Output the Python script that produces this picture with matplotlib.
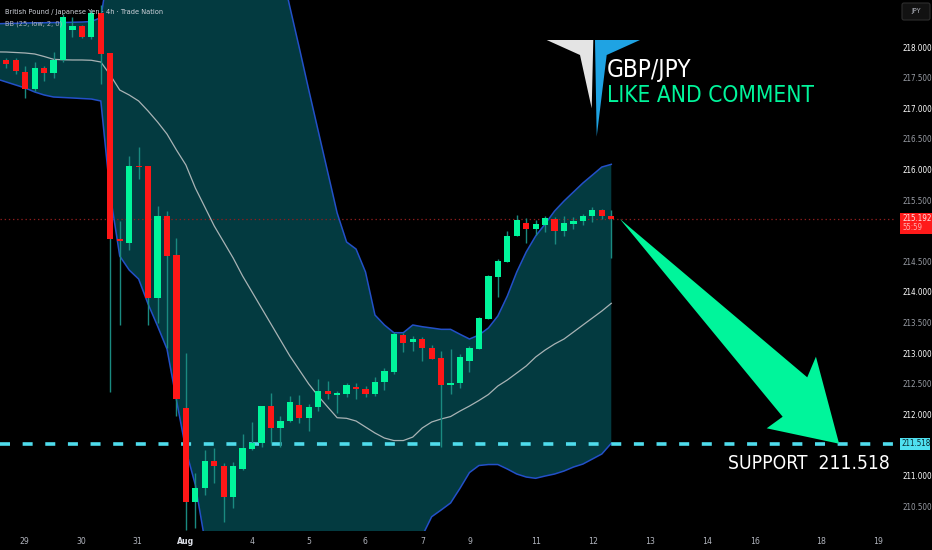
import numpy as np
import matplotlib.pyplot as plt
from matplotlib.patches import Polygon, Rectangle, FancyBboxPatch

plt.rcParams['font.family'] = ['DejaVu Sans']
plt.rcParams['font.stretch'] = 'condensed'
plt.rcParams['lines.scale_dashes'] = False

# GBP/JPY 4h candles
opens = [217.784, 217.784, 217.596, 217.315, 217.663, 217.580, 217.784, 218.283, 218.337, 218.160,
         218.559, 217.895, 214.863, 214.791, 216.060, 216.051, 213.907, 215.232, 214.601, 212.101,
         210.573, 210.789, 211.230, 211.154, 210.642, 211.110, 211.436, 211.525, 212.134, 211.770,
         211.889, 212.145, 211.933, 212.123, 212.379, 212.319, 212.325, 212.449, 212.412, 212.325,
         212.521, 212.690, 213.294, 213.175, 213.229, 213.082, 212.913, 212.472, 212.505, 212.864,
         213.070, 213.560, 214.247, 214.482, 214.917, 215.119, 215.026, 215.096, 215.190, 214.998,
         215.108, 215.162, 215.234, 215.332, 215.243]
closes = [217.719, 217.608, 217.315, 217.663, 217.580, 217.791, 218.492, 218.337, 218.160, 218.559,
          217.886, 214.863, 214.830, 216.060, 216.039, 213.907, 215.232, 214.585, 212.248, 210.573,
          210.802, 211.235, 211.154, 210.642, 211.154, 211.448, 211.534, 212.134, 211.770, 211.894,
          212.194, 211.933, 212.123, 212.384, 212.330, 212.342, 212.472, 212.417, 212.330, 212.531,
          212.706, 213.306, 213.158, 213.229, 213.077, 212.902, 212.477, 212.505, 212.930, 213.082,
          213.577, 214.258, 214.503, 214.912, 215.168, 215.026, 215.103, 215.201, 214.998, 215.119,
          215.157, 215.239, 215.332, 215.243, 215.192]
highs = [217.828, 217.820, 217.690, 217.747, 217.690, 217.912, 218.547, 218.492, 218.353, 218.605,
         218.686, 217.902, 215.157, 216.227, 216.366, 216.060, 215.402, 215.320, 214.879, 213.000,
         211.039, 211.415, 211.448, 211.203, 211.224, 211.676, 211.873, 212.134, 212.346, 211.975,
         212.297, 212.314, 212.162, 212.570, 212.542, 212.379, 212.505, 212.505, 212.466, 212.613,
         212.760, 213.348, 213.322, 213.278, 213.267, 213.131, 213.033, 213.070, 212.984, 213.114,
         213.593, 214.275, 214.536, 214.998, 215.255, 215.201, 215.168, 215.239, 215.227, 215.239,
         215.227, 215.271, 215.391, 215.348, 215.337]
lows = [217.663, 217.552, 217.167, 217.276, 217.444, 217.497, 217.747, 218.160, 218.149, 218.132,
        217.399, 212.363, 213.466, 214.691, 215.843, 213.466, 213.490, 213.082, 211.971, 210.108,
        210.141, 210.680, 210.871, 210.243, 210.462, 211.088, 211.415, 211.469, 211.525, 211.459,
        211.868, 211.851, 211.730, 212.047, 212.248, 212.015, 212.276, 212.243, 212.286, 212.297,
        212.395, 212.652, 213.021, 213.038, 212.874, 212.897, 211.469, 212.325, 212.433, 212.694,
        213.060, 213.560, 213.910, 214.482, 214.917, 214.802, 214.928, 214.982, 214.776, 214.912,
        215.031, 215.096, 215.145, 215.185, 214.547]

# Bollinger bands (25, low, 2), starting one bar before the first candle
bb_upper = [218.380, 218.384, 218.387, 218.392, 218.395, 218.397, 218.399, 218.400, 218.404, 218.408, 218.417,
            218.480, 219.450, 219.900, 220.100, 220.250, 220.400, 220.550, 220.700, 220.800, 220.850,
            220.850, 220.800, 220.750, 220.650, 220.550, 220.450, 220.300, 220.150, 219.900, 219.340,
            218.654, 217.984, 217.297, 216.627, 215.958, 215.288, 214.814, 214.699, 214.324, 213.621,
            213.458, 213.332, 213.332, 213.458, 213.430, 213.409, 213.387, 213.387, 213.306, 213.229,
            213.294, 213.409, 213.605, 213.931, 214.324, 214.651, 214.912, 215.108, 215.320, 215.484,
            215.631, 215.778, 215.908, 216.039, 216.083]
bb_lower = [217.477, 217.428, 217.379, 217.330, 217.265, 217.216, 217.183, 217.175, 217.167, 217.158, 217.150,
            217.118, 215.582, 214.585, 214.356, 214.209, 213.801, 213.441, 213.065, 212.232, 211.415,
            210.843, 209.940, 209.700, 209.500, 209.300, 209.200, 209.100, 209.000, 208.900, 208.850,
            208.800, 208.800, 208.850, 208.900, 209.000, 209.100, 209.200, 209.300, 209.400, 209.500,
            209.600, 209.700, 209.800, 209.950, 210.010, 210.325, 210.435, 210.550, 210.790, 211.047,
            211.162, 211.178, 211.178, 211.105, 211.023, 210.974, 210.953, 210.990, 211.023, 211.072,
            211.137, 211.186, 211.268, 211.350, 211.525]
bb_mid = [217.920, 217.918, 217.910, 217.902, 217.886, 217.845, 217.799, 217.791, 217.788, 217.788, 217.783,
          217.755, 217.542, 217.297, 217.216, 217.118, 216.954, 216.775, 216.578, 216.317, 216.072,
          215.696, 215.386, 215.075, 214.814, 214.552, 214.258, 213.997, 213.735, 213.474, 213.212,
          212.951, 212.722, 212.493, 212.297, 212.118, 211.943, 211.933, 211.889, 211.791, 211.693,
          211.611, 211.570, 211.570, 211.627, 211.775, 211.873, 211.922, 211.962, 212.052, 212.134,
          212.224, 212.322, 212.461, 212.559, 212.673, 212.788, 212.935, 213.049, 213.147, 213.229,
          213.343, 213.458, 213.572, 213.686, 213.812]

support = 211.518
last_price = 215.192
countdown = '55:59'

# date labels (bar index where each label sits)
tick_pos = [1.9, 7.9, 13.9, 19.0, 26.0, 32.0, 37.9, 44.1, 49.1, 56.0, 62.1, 68.1, 74.1, 79.2, 86.2, 92.2]
tick_labels = ['29', '30', '31', 'Aug', '4', '5', '6', '7', '9', '11', '12', '13', '14', '16', '18', '19']

GREEN = '#00f59b'
RED = '#ff1717'
WICK = '#1a8a80'
FILL = '#033a40'
BAND = '#2350c8'

W, H = 932, 550
fig = plt.figure(figsize=(W / 100, H / 100), dpi=100, facecolor='black')
ax = fig.add_axes([0, 19 / H, 896 / W, 531 / H])
ax.set_facecolor('black')

o = np.array(opens)
c = np.array(closes)
x = np.arange(len(o))
bx = np.arange(-1, len(o))

# bands
ax.fill_between(bx, bb_lower, bb_upper, color=FILL, lw=0, zorder=1)
ax.plot(bx, bb_upper, color=BAND, lw=1.1, zorder=2)
ax.plot(bx, bb_lower, color=BAND, lw=1.1, zorder=2)
ax.plot(bx, bb_mid, color='#a9b3b5', lw=0.9, zorder=2)

# price lines
ax.axhline(last_price, color='#8c1d1d', lw=0.9, ls=(0, (1, 2)), zorder=1.5)
ax.axhline(support, color='#4fdcec', lw=2.6, dashes=(7.2, 9.1), zorder=3)

# candles
up = c >= o
ax.vlines(x, lows, highs, color=WICK, lw=1, zorder=4)
body = np.maximum(np.abs(c - o), 0.025)
bottom = (o + c) / 2 - body / 2
ax.bar(x, body, bottom=bottom, width=0.66, color=np.where(up, GREEN, RED), lw=0, zorder=5)

# arrow towards support
tail = (len(o) - 0.1, last_price)
tip = (88.1, support)
arrow = [tail, (84.73, 212.603), (85.65, 212.94), tip, (80.44, 211.77), (82.13, 211.959)]
ax.add_patch(Polygon(arrow, closed=True, color=GREEN, lw=0, zorder=6))

ax.set_xlim(-0.666, 94.12)
ax.set_ylim(210.092, 218.768)

yt = np.arange(210.5, 218.01, 0.5)
ax.set_yticks(yt)
ax.set_yticklabels(['' if abs(v - 215.0) < 1e-6 or abs(v - 211.5) < 1e-6 else f'{v:.3f}' for v in yt])
ax.yaxis.tick_right()
ax.tick_params(axis='y', length=0, pad=5, labelsize=5.8)
for v, lab in zip(yt, ax.get_yticklabels()):
    lab.set_color('#ffffff' if abs(v - round(v)) < 1e-6 else '#9a9ea6')

ax.set_xticks(tick_pos)
ax.set_xticklabels(tick_labels)
ax.tick_params(axis='x', length=0, pad=4, labelsize=6.2, labelcolor='#b2b5be')
for lab in ax.get_xticklabels():
    if lab.get_text() == 'Aug':
        lab.set_fontweight('bold')
        lab.set_color('#e0e3eb')
for s in ax.spines.values():
    s.set_visible(False)

# overlay in pixel coordinates for labels and logo
ov = fig.add_axes([0, 0, 1, 1], zorder=10)
ov.set_xlim(0, W)
ov.set_ylim(H, 0)
ov.axis('off')


def ypix(price):
    return H - ax.transData.transform((0, price))[1]


ov.text(5, 12, 'British Pound / Japanese Yen · 4h · Trade Nation', color='#d1d4dc',
        fontsize=5.3, va='center', ha='left')
ov.text(5, 24, 'BB (25, low, 2, 0)', color='#b2b5be', fontsize=5.3, va='center', ha='left')

ov.add_patch(FancyBboxPatch((902, 3), 28, 17, boxstyle='round,pad=0,rounding_size=2',
                            facecolor='#121212', edgecolor='#2e2e2e', lw=0.8))
ov.text(916, 11.5, 'JPY', color='#b2b5be', fontsize=5.2, ha='center', va='center')

# last price box
yp = ypix(last_price)
ov.add_patch(Rectangle((900, yp - 6), 32, 21, color='#ff1a1a', lw=0))
ov.text(902.5, yp, f'{last_price:.3f}', color='#ffe0e0', fontsize=5.8, va='center', ha='left')
ov.text(902.5, yp + 9, countdown, color='#ffb0b0', fontsize=5.6, va='center', ha='left')

# support box
ys = ypix(support)
ov.add_patch(Rectangle((900, ys - 6), 30, 12, color='#4fe0f0', lw=0))
ov.text(901.5, ys, f'{support:.3f}', color='#0b2a30', fontsize=5.8, va='center', ha='left')
ov.text(890, ys + 25.5, f'SUPPORT  {support:.3f}', color='white', fontsize=13.8,
        ha='right', va='baseline')

# logo
ov.add_patch(Polygon([(546.7, 40), (593.3, 40), (591.7, 108.3), (580, 55)], color='#e4e4e4', lw=0))
ov.add_patch(Polygon([(595, 40), (640, 40), (606.7, 55), (596.7, 136.7)], color='#1fa3e3', lw=0))
ov.text(606.7, 76.7, 'GBP/JPY', color='white', fontsize=17.5, ha='left', va='baseline')
ov.text(606.7, 101.7, 'LIKE AND COMMENT', color=GREEN, fontsize=16.3, ha='left', va='baseline')

fig.savefig('out.png', dpi=100, facecolor='black')
